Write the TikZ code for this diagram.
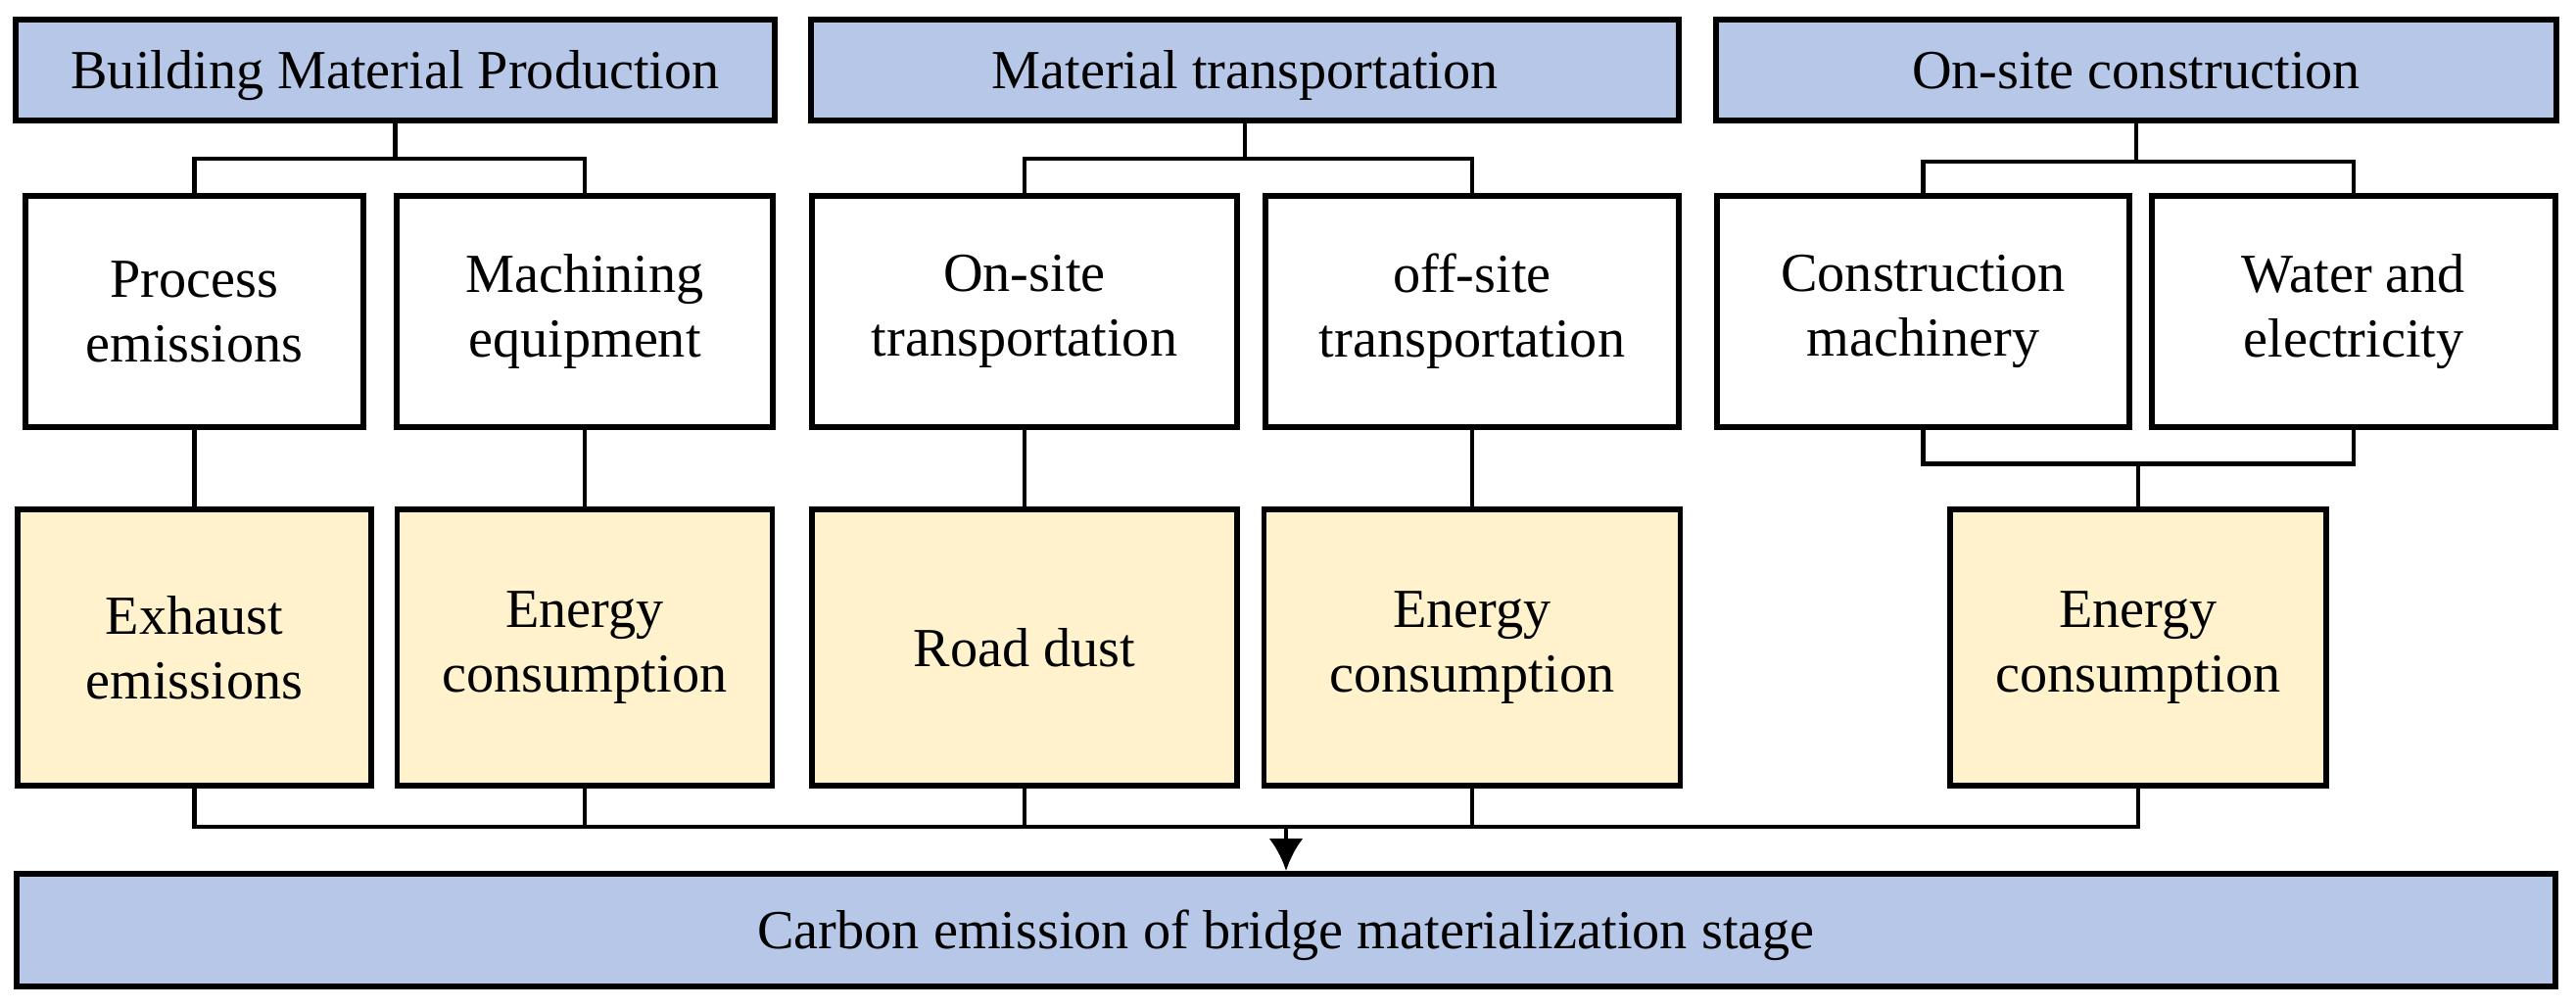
\documentclass[tikz,border=0pt]{standalone}
\usepackage{fontspec}
\setmainfont{Liberation Serif}
\usepackage{tikz}
\usetikzlibrary{calc, arrows.meta}
\tikzset{>={Latex[length=3.3mm, width=3.5mm]}}
\definecolor{myblue}{RGB}{182, 199, 231}
\definecolor{myyellow}{RGB}{255, 242, 204}

\begin{document}
\begin{tikzpicture}[
  box/.style = {draw, line width = 1.5pt, align = center, inner sep = 0pt,
                font = \fontsize{16}{18.8}\selectfont},
  oneline/.style = {text height = 12.5pt, text depth = 1.5pt},
  stage/.style = {box, oneline, line width = 1.7pt, fill = myblue, minimum height = 1.03cm},
  source/.style = {box, fill = white, minimum height = 2.36cm},
  effect/.style = {box, fill = myyellow, minimum height = 2.82cm},
  link/.style = {line width = 1.4pt}]

\useasboundingbox (0, 0) rectangle (26.30, -10.29); % page size

% stages
\node[stage, minimum width = 7.75cm] (h1) at (4.035, -0.715) {Building Material Production};
\node[stage, minimum width = 8.86cm] (h2) at (12.71, -0.715) {Material transportation};
\node[stage, minimum width = 8.58cm] (h3) at (21.81, -0.715) {On-site construction};

% sources
\node[source, minimum width = 3.45cm] (s1) at (1.985, -3.18) {Process\\emissions};
\node[source, minimum width = 3.84cm] (s2) at (5.97, -3.18) {Machining\\equipment};
\node[source, minimum width = 4.34cm] (s3) at (10.46, -3.18) {On-site\\transportation};
\node[source, minimum width = 4.22cm] (s4) at (15.03, -3.18) {off-site\\transportation};
\node[source, minimum width = 4.21cm] (s5) at (19.635, -3.18) {Construction\\machinery};
\node[source, minimum width = 4.12cm] (s6) at (24.03, -3.18) {Water and\\electricity};

% emissions
\node[effect, minimum width = 3.61cm] (e1) at (1.985, -6.61) {Exhaust\\emissions};
\node[effect, minimum width = 3.83cm] (e2) at (5.97, -6.61) {Energy\\consumption};
\node[effect, oneline, minimum width = 4.34cm] (e3) at (10.46, -6.61) {Road dust};
\node[effect, minimum width = 4.25cm] (e4) at (15.03, -6.61) {Energy\\consumption};
\node[effect, minimum width = 3.84cm] (e5) at (21.83, -6.61) {Energy\\consumption};

\node[stage, minimum width = 25.92cm, minimum height = 1.15cm] (c) at (13.13, -9.495)
  {Carbon emission of bridge materialization stage};

% stage to sources
\coordinate (b1) at ($(h1.south) + (0, -0.36)$);
\coordinate (b2) at ($(h2.south) + (0, -0.36)$);
\coordinate (b3) at ($(h3.south) + (0, -0.39)$);
\draw[link] (h1.south) -- (b1);
\draw[link] (s1.north) |- (b1) -| (s2.north);
\draw[link] (h2.south) -- (b2);
\draw[link] (s3.north) |- (b2) -| (s4.north);
\draw[link] (h3.south) -- (b3);
\draw[link] (s5.north) |- (b3) -| (s6.north);

% sources to emissions
\draw[link] (s1.south) -- (e1.north);
\draw[link] (s2.south) -- (e2.north);
\draw[link] (s3.south) -- (e3.north);
\draw[link] (s4.south) -- (e4.north);
\coordinate (j3) at ($(e5.north) + (0, 0.44)$);
\draw[link] (s5.south) |- (j3) -| (s6.south);
\draw[link] (j3) -- (e5.north);

% emissions to total
\coordinate (bus) at ($(c.north) + (0, 0.45)$);
\draw[link] (e1.south) |- (bus) -| (e5.south);
\foreach \e in {e2, e3, e4}
  \draw[link] (\e.south) -- (\e.south |- bus);
\draw[link, ->] (bus) -- (c.north);

\end{tikzpicture}
\end{document}
